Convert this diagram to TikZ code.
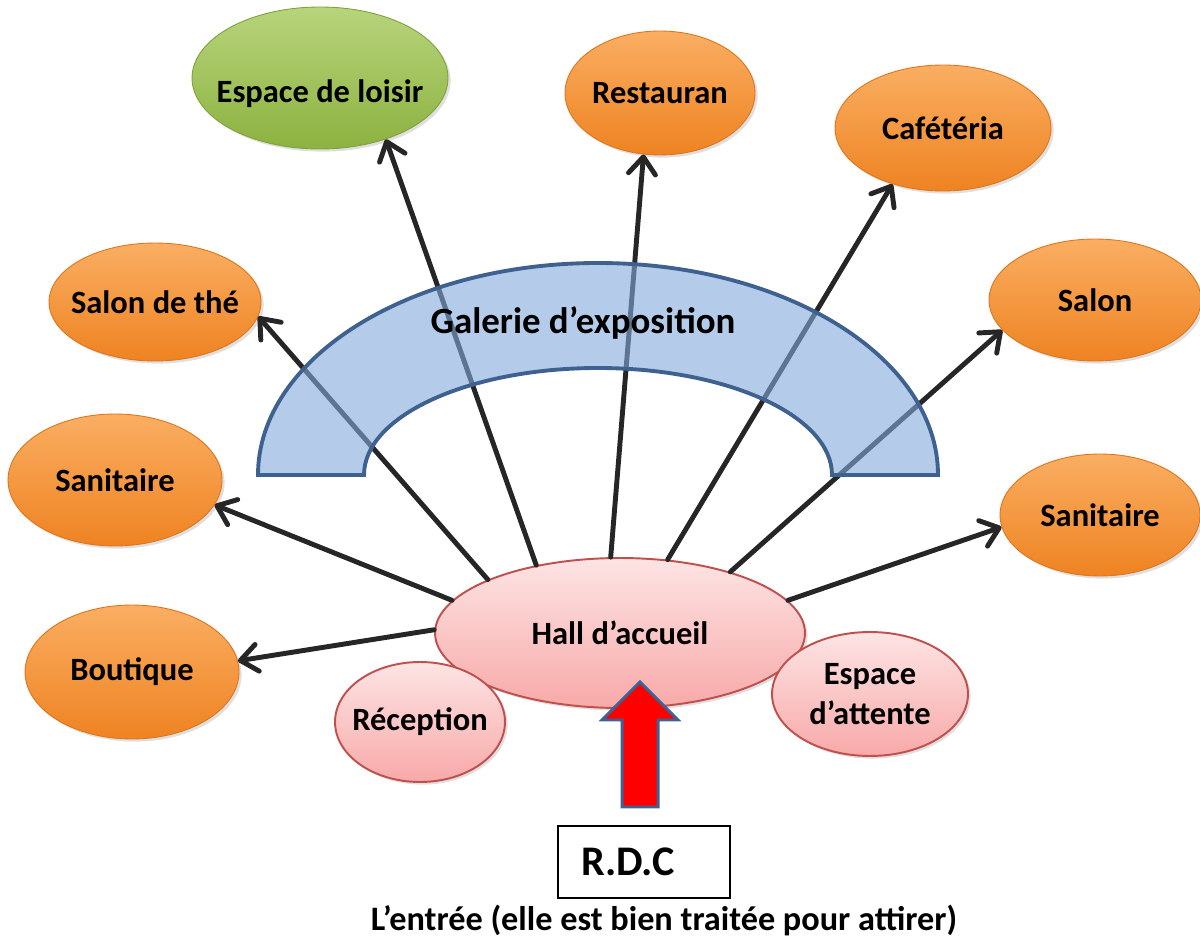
\documentclass[tikz,border=0pt]{standalone}
\usepackage{fontspec}
\setmainfont{Carlito}
\usetikzlibrary{shapes.geometric,arrows.meta,shadows}

\definecolor{orangetop}{HTML}{FAAE62}
\definecolor{orangebot}{HTML}{EE8322}
\definecolor{orangeedge}{HTML}{E07418}
\definecolor{greentop}{HTML}{B8D47C}
\definecolor{greenbot}{HTML}{8CB240}
\definecolor{greenedge}{HTML}{7EA23A}
\definecolor{pinktop}{HTML}{FDE4E4}
\definecolor{pinkbot}{HTML}{F8A9A9}
\definecolor{pinkedge}{HTML}{C0504D}
\definecolor{archfill}{HTML}{82AADA}
\definecolor{archedge}{HTML}{3E6190}
\definecolor{linkgrey}{HTML}{262626}
\definecolor{entryedge}{HTML}{3F6294}

\begin{document}
\begin{tikzpicture}[x=0.02cm, y=0.02cm,
    room/.style={ellipse, inner xsep=-0.6cm, inner ysep=0pt, align=center,
      top color=orangetop, bottom color=orangebot, draw=orangeedge, line width=0.5pt,
      font=\fontsize{18.5}{23}\selectfont\bfseries,
      drop shadow={opacity=0.25, shadow xshift=1.5pt, shadow yshift=-1.5pt}},
    leisure/.style={room, top color=greentop, bottom color=greenbot, draw=greenedge},
    hallroom/.style={room, top color=pinktop, bottom color=pinkbot, draw=pinkedge, line width=1.1pt},
    link/.style={-{Straight Barb[length=3.4mm, width=5.4mm, round]}, line width=2.8pt,
      draw=linkgrey, line cap=round},
    gallery/.style={fill=archfill, fill opacity=0.6, draw=archedge, line width=2.2pt}]

  \useasboundingbox (0,0) rectangle (1200,944);

  % surrounding spaces
  \node[leisure, minimum width=5.12cm, minimum height=2.84cm] (loisir) at (320,866)
    {\raisebox{-0.5cm}[0pt][0pt]{Espace de loisir}};
  \node[room, minimum width=3.8cm,  minimum height=2.48cm] (resto)    at (660,851)  {Restauran};
  \node[room, minimum width=4.32cm, minimum height=2.52cm] (cafe)     at (943,816)  {Cafétéria};
  \node[room, minimum width=4.24cm, minimum height=2.36cm] (the)      at (155,642)  {Salon de thé};
  \node[room, minimum width=4.24cm, minimum height=2.44cm] (salon)    at (1095,644) {Salon};
  \node[room, minimum width=4.28cm, minimum height=2.64cm] (sanL)     at (115,464)  {Sanitaire};
  \node[room, minimum width=4.0cm,  minimum height=2.44cm] (sanR)     at (1100,429) {Sanitaire};
  \node[room, minimum width=4.28cm, minimum height=2.68cm] (boutique) at (132,272)  {Boutique};

  % hall
  \node[hallroom, minimum width=7.4cm,  minimum height=3.0cm]  (hall)    at (620,311) {Hall d’accueil};
  \node[hallroom, minimum width=3.4cm,  minimum height=2.4cm]  (recep)   at (420,222) {Réception};
  \node[hallroom, minimum width=3.92cm, minimum height=2.48cm] (attente) at (870,250) {Espace\\d’attente};

  \draw[link] (hall.141.6) -- (loisir.-43);
  \draw[link] (hall.97.6)  -- (resto.-105.5);
  \draw[link] (hall.57.4)  -- (cafe.-132.7);
  \draw[link] (hall.158.3) -- (the.-8.7);
  \draw[link] (hall.29.3)  -- (salon.-162.3);
  \draw[link] (hall.11.3)  -- (sanR.-173.5);
  \draw[link] (hall.169.2) -- (sanL.-14.7);
  \draw[link] (hall.179)   -- (boutique.6.2);

  % galerie
  \path[gallery] (258,469) arc[start angle=180, end angle=0, x radius=340, y radius=212]
    -- (832,469) arc[start angle=0, end angle=180, x radius=234, y radius=107] -- cycle;
  \node[font=\fontsize{21}{25}\selectfont\bfseries] (galerie) at (583,621) {Galerie d’exposition};

  % entree
  \draw[fill=red, draw=entryedge, line width=1.7pt, line join=miter]
    (622,137) -- (658,137) -- (658,224) -- (678,224) -- (640,262)
    -- (602,224) -- (622,224) -- cycle;
  \node[draw, line width=1pt, minimum width=3.44cm, minimum height=1.44cm,
    font=\fontsize{24}{28}\selectfont\bfseries] (rdc) at (644,82) {R.D.C\kern0.64cm};
  \node[font=\fontsize{19.5}{23}\selectfont\bfseries] (entree) at (664,24)
    {L’entrée (elle est bien traitée pour attirer)};
\end{tikzpicture}
\end{document}
